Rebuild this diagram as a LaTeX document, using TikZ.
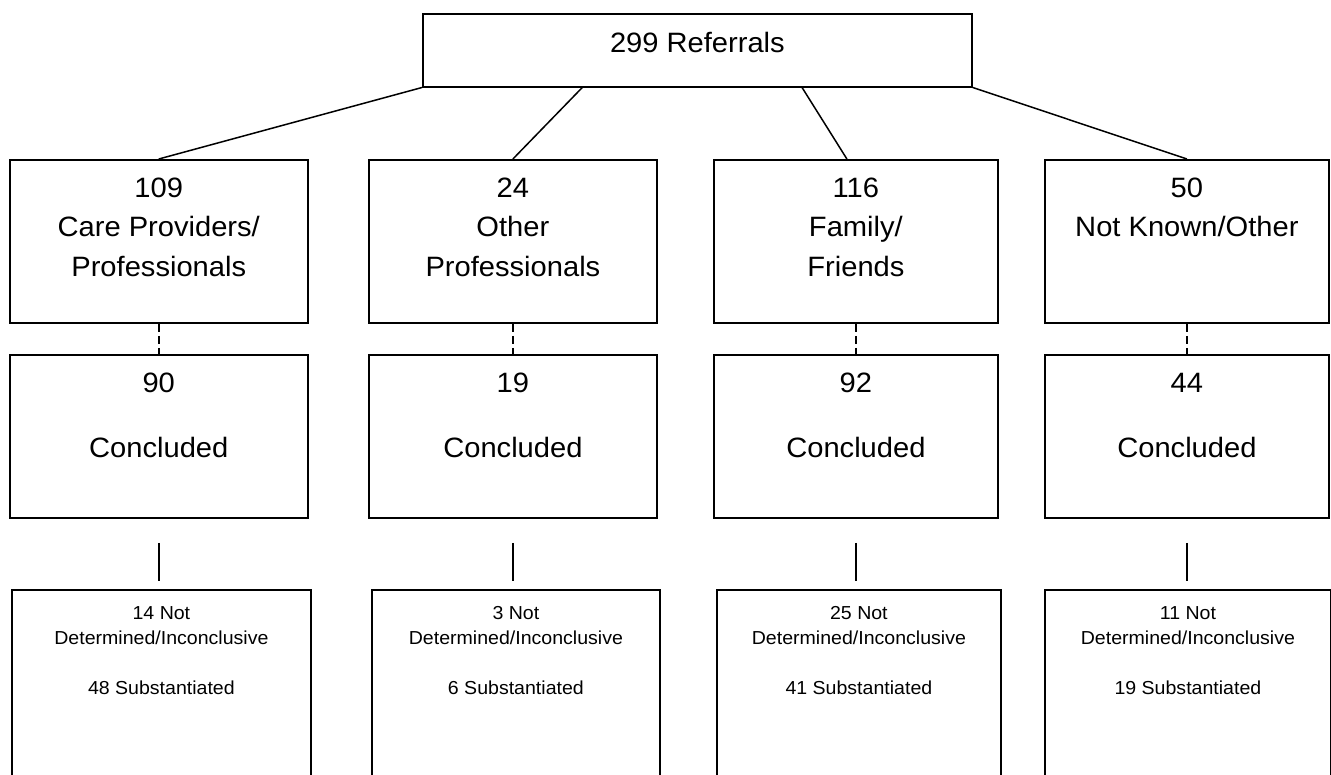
\documentclass[tikz,border=0pt]{standalone}
\usepackage{fontspec}
\setmainfont[FakeStretch=1.04]{Liberation Sans}
\usetikzlibrary{calc}

% text block of fixed size, set from the top
\newcommand{\boxlines}[3]{\begin{minipage}[t][#2pt][t]{#1pt}\centering #3\end{minipage}}

\tikzset{
  box/.style={draw, line width=1.8pt, inner sep=0pt, anchor=north west},
  bigtext/.style={font=\fontsize{28}{39.3}\selectfont},
  smalltext/.style={font=\fontsize{18.8}{25.2}\selectfont},
  link/.style={line width=1.5pt},
}

\begin{document}
\begin{tikzpicture}[x=1pt, y=-1pt]
\clip (0,0) rectangle (1331,774);
%
\node[box, bigtext] (ref) at (422,12.7) {\boxlines{549}{73}{\rule{0pt}{39pt}299 Referrals}};
%
\node[box, bigtext] (src1) at (8.7,159) {\boxlines{298.3}{163}{\rule{0pt}{37.5pt}109\\Care Providers/\\Professionals}};
\node[box, bigtext] (src2) at (368,159) {\boxlines{288}{163}{\rule{0pt}{37.5pt}24\\Other\\Professionals}};
\node[box, bigtext] (src3) at (713,159) {\boxlines{284}{163}{\rule{0pt}{37.5pt}116\\Family/\\Friends}};
\node[box, bigtext] (src4) at (1044,159) {\boxlines{284}{163}{\rule{0pt}{37.5pt}50\\Not Known/Other}};
%
\node[box, bigtext] (con1) at (8.7,353.7) {\boxlines{298.3}{163.3}{\rule{0pt}{38.3pt}90\\[25.3pt]Concluded}};
\node[box, bigtext] (con2) at (368,353.7) {\boxlines{288}{163.3}{\rule{0pt}{38.3pt}19\\[25.3pt]Concluded}};
\node[box, bigtext] (con3) at (713,353.7) {\boxlines{284}{163.3}{\rule{0pt}{38.3pt}92\\[25.3pt]Concluded}};
\node[box, bigtext] (con4) at (1044,353.7) {\boxlines{284}{163.3}{\rule{0pt}{38.3pt}44\\[25.3pt]Concluded}};
%
\node[box, smalltext] (out1) at (11,589) {\boxlines{299}{220}{\rule{0pt}{29.4pt}14 Not\\Determined/Inconclusive\\[24.6pt]48 Substantiated}};
\node[box, smalltext] (out2) at (371,589) {\boxlines{288}{220}{\rule{0pt}{29.4pt}3 Not\\Determined/Inconclusive\\[24.6pt]6 Substantiated}};
\node[box, smalltext] (out3) at (716,589) {\boxlines{284}{220}{\rule{0pt}{29.4pt}25 Not\\Determined/Inconclusive\\[24.6pt]41 Substantiated}};
\node[box, smalltext] (out4) at (1044,589) {\boxlines{286}{220}{\rule{0pt}{29.4pt}11 Not\\Determined/Inconclusive\\[24.6pt]19 Substantiated}};
%
\draw[link] (ref.south west) -- (src1.north);
\draw[link] ($(ref.south west)!0.291!(ref.south east)$) -- (src2.north);
\draw[link] ($(ref.south west)!0.69!(ref.south east)$) -- ([xshift=-9pt]src3.north);
\draw[link] (ref.south east) -- (src4.north);
%
\foreach \i in {1,2,3,4} {
  \draw[link, dash pattern=on 8pt off 4pt] (src\i.south) -- (con\i.north);
  \draw[link] ([yshift=-24pt]con\i.south) -- ([yshift=8pt]con\i.south |- out\i.north);
}
\end{tikzpicture}
\end{document}
